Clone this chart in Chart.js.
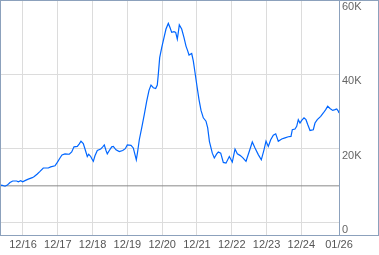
<!DOCTYPE html>
<html>
<head>
<meta charset="utf-8">
<script src="https://cdn.jsdelivr.net/npm/chart.js@4/dist/chart.umd.min.js"></script>
<style>
  html, body { margin: 0; padding: 0; background: #fff; }
  #wrap { width: 379px; height: 255px; }
</style>
</head>
<body>
<div id="wrap"><canvas id="myChart" width="379" height="255"></canvas></div>
<script>
// dates as decimal years
const dates = [
  2016.256, 2016.305, 2016.400, 2016.466, 2016.543, 2016.621, 2016.736, 2016.782, 2016.851, 2016.908,
  2016.974, 2017.069, 2017.184, 2017.242, 2017.328, 2017.406, 2017.500, 2017.644, 2017.713, 2017.837,
  2017.903, 2017.980, 2018.038, 2018.124, 2018.248, 2018.317, 2018.383, 2018.478, 2018.535, 2018.584,
  2018.650, 2018.699, 2018.765, 2018.805, 2018.863, 2018.900, 2018.938, 2018.986, 2019.053, 2019.150,
  2019.208, 2019.254, 2019.303, 2019.340, 2019.398, 2019.467, 2019.513, 2019.590, 2019.685, 2019.783,
  2019.857, 2019.915, 2020.021, 2020.087, 2020.136, 2020.174, 2020.214, 2020.260, 2020.329, 2020.404,
  2020.473, 2020.539, 2020.596, 2020.663, 2020.731, 2020.777, 2020.806, 2020.846, 2020.904, 2020.970,
  2021.027, 2021.094, 2021.142, 2021.191, 2021.257, 2021.306, 2021.352, 2021.381, 2021.410, 2021.478,
  2021.545, 2021.602, 2021.651, 2021.689, 2021.766, 2021.812, 2021.861, 2021.918, 2021.976, 2022.034,
  2022.100, 2022.177, 2022.226, 2022.276, 2022.321, 2022.358, 2022.416, 2022.485, 2022.531, 2022.600,
  2022.675, 2022.752, 2022.847, 2022.933, 2023.011, 2023.077, 2023.154, 2023.232, 2023.327, 2023.422,
  2023.508, 2023.586, 2023.680, 2023.767, 2023.844, 2023.902, 2023.968, 2024.037, 2024.112, 2024.181,
  2024.255, 2024.353, 2024.448, 2024.543, 2024.620, 2024.658, 2024.735, 2024.784, 2024.830, 2024.879,
  2024.928, 2024.994, 2025.051, 2025.101, 2025.167, 2025.261, 2025.310, 2025.376, 2025.474, 2025.549,
  2025.618, 2025.675, 2025.742, 2025.819, 2025.885, 2025.934, 2025.980, 2026.000
];
const prices = [
  10000, 10200, 9900, 10200, 10900, 11300, 11300, 11100, 11400, 11100,
  11400, 11800, 12200, 12500, 13200, 13900, 14800, 14800, 15100, 15400,
  16300, 17500, 18300, 18600, 18500, 19100, 20500, 20600, 21300, 22000,
  21400, 19900, 17900, 18500, 17900, 17200, 16600, 18100, 19500, 19900,
  20500, 21000, 19500, 18600, 19500, 20500, 20600, 19700, 19200, 19500,
  20000, 21000, 20900, 20200, 18400, 17000, 19300, 22400, 25600, 29200,
  32800, 35700, 37100, 36400, 36200, 37100, 40000, 44500, 47200, 49900,
  52200, 53700, 52600, 51300, 51500, 51300, 49500, 51300, 53300, 52200,
  49900, 47600, 46300, 45200, 45600, 43600, 40500, 36800, 33200, 30300,
  28300, 27400, 25600, 21900, 20200, 18800, 17500, 18600, 19100, 18800,
  16300, 16100, 17900, 16400, 19900, 18600, 18200, 17600, 16600, 19300,
  21800, 20200, 18400, 17000, 19700, 22000, 20600, 22400, 23600, 24000,
  22000, 22600, 22900, 23200, 23300, 25100, 25300, 26000, 27800, 26900,
  27600, 28300, 27800, 26500, 24900, 25100, 26900, 27800, 28700, 29600,
  30500, 31400, 30800, 30300, 30500, 30700, 30100, 29600
];
const baseline = 10000;

const xTickValues = [2016.917, 2017.917, 2018.917, 2019.917, 2020.917, 2021.917, 2022.917, 2023.917, 2024.917, 2026.0];
const xTickLabels = ['12/16', '12/17', '12/18', '12/19', '12/20', '12/21', '12/22', '12/23', '12/24', '01/26'];
const yTickValues = [0, 20000, 40000, 60000];
const yTickLabels = ['0', '20K', '40K', '60K'];

const xMin = 2016.256, xMax = 2026.0;
const yMin = -3229, yMax = 60000;

const frame = {
  id: 'frame',
  afterDraw(chart) {
    const c = chart.ctx;
    const a = chart.chartArea;
    c.save();
    c.strokeStyle = '#8ca1bc';
    c.lineWidth = 1;
    c.strokeRect(0.5, 0.5, 378, a.bottom);
    c.beginPath();
    c.moveTo(339.5, 0);
    c.lineTo(339.5, a.bottom + 0.5);
    c.stroke();
    c.restore();
  }
};

new Chart('myChart', {
  type: 'line',
  data: {
    datasets: [{
      data: dates.map((d, i) => ({ x: d, y: prices[i] })),
      borderColor: '#0066ff',
      borderWidth: 1.2,
      pointRadius: 0,
      tension: 0,
      fill: false
    }, {
      data: [{ x: xMin, y: baseline }, { x: xMax, y: baseline }],
      borderColor: '#8a8a8a',
      borderWidth: 1,
      pointRadius: 0,
      fill: false
    }]
  },
  options: {
    responsive: false,
    animation: false,
    events: [],
    layout: { padding: { left: 0, top: 0, right: 1, bottom: 0 } },
    plugins: { legend: { display: false }, tooltip: { enabled: false } },
    scales: {
      x: {
        type: 'linear',
        min: xMin,
        max: xMax,
        afterBuildTicks: s => { s.ticks = xTickValues.map(v => ({ value: v })); },
        afterFit: s => { s.height = 20; },
        grid: { color: '#dcdcdc', drawTicks: false },
        border: { display: false },
        ticks: {
          autoSkip: false,
          maxRotation: 0,
          padding: 3,
          color: '#555',
          font: { family: 'Liberation Sans', size: 11 },
          callback: v => xTickLabels[xTickValues.indexOf(v)]
        }
      },
      y: {
        position: 'right',
        min: yMin,
        max: yMax,
        afterBuildTicks: s => { s.ticks = yTickValues.map(v => ({ value: v })); },
        afterFit: s => { s.width = 39; s.paddingTop = 0; s.paddingBottom = 0; },
        grid: { color: '#dcdcdc', drawTicks: false },
        border: { display: false },
        ticks: {
          padding: 3,
          labelOffset: 7,
          color: '#666',
          font: { family: 'Liberation Sans', size: 11 },
          callback: v => yTickLabels[yTickValues.indexOf(v)]
        }
      }
    }
  },
  plugins: [frame]
});
</script>
</body>
</html>
